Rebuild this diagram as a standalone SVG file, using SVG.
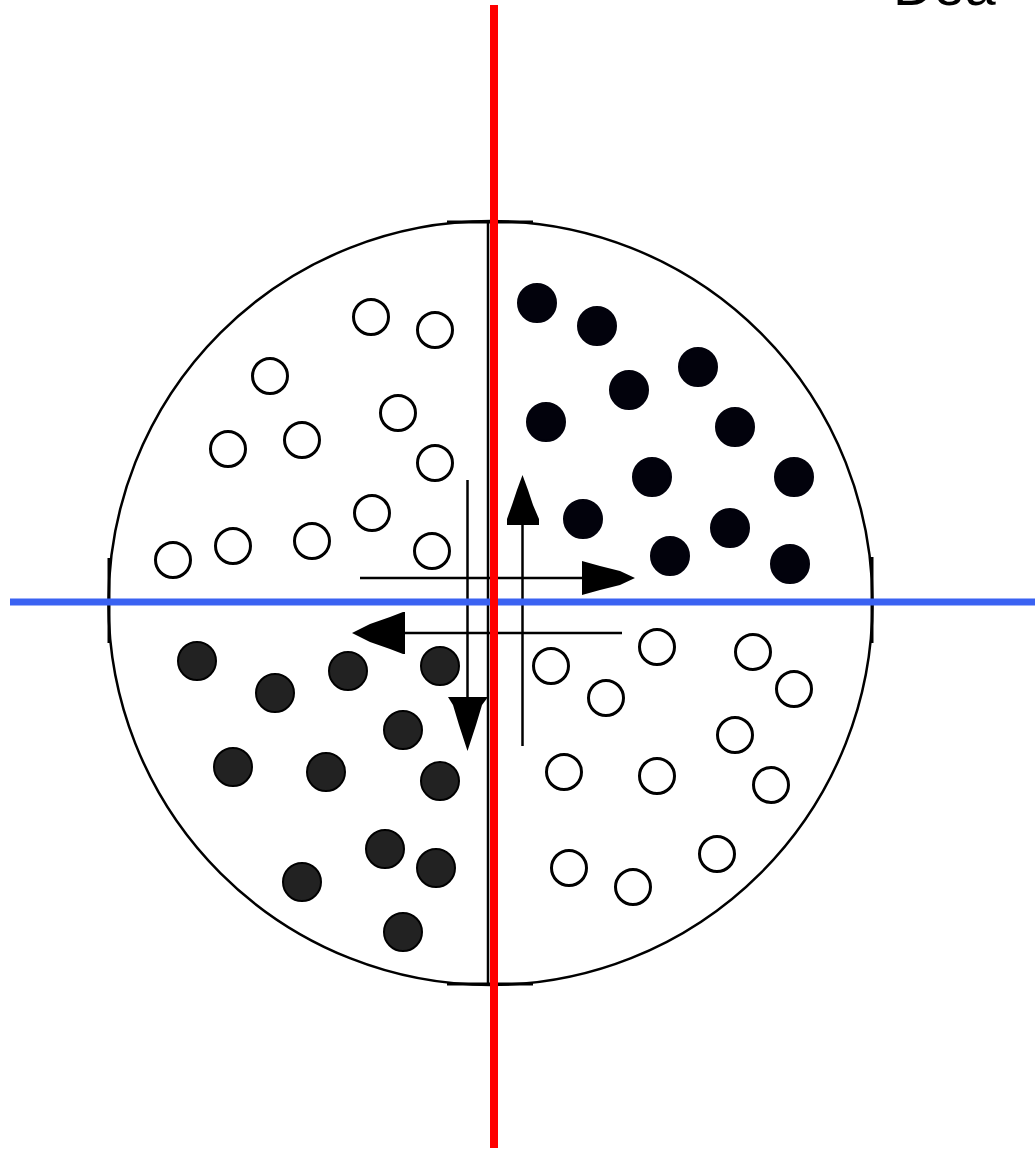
<svg xmlns="http://www.w3.org/2000/svg" width="1035" height="1150" viewBox="0 0 1035 1150">
<style>
.open{fill:#fff;stroke:#000;stroke-width:3}
.blk{fill:#02020c;stroke:#02020c;stroke-width:2}
.gry{fill:#222;stroke:#000;stroke-width:2}
.ln{stroke:#000;stroke-width:2.5;fill:none}
.head{fill:#000}
.flat{stroke:#000;stroke-width:3}
</style>
<rect width="1035" height="1150" fill="#fff"/>
<text x="893" y="5" font-family="Liberation Sans, Arial, sans-serif" font-size="56" fill="#000">Dea</text>
<g id="disc">
<circle cx="490.5" cy="603" r="382" fill="none" stroke="#000" stroke-width="2.5"/>
<line class="flat" x1="447" y1="222" x2="533" y2="222"/>
<line class="flat" x1="447" y1="984" x2="533" y2="984"/>
<line class="flat" x1="109" y1="558" x2="109" y2="643"/>
<line class="flat" x1="872" y1="557" x2="872" y2="643"/>
<line x1="488" y1="221" x2="488" y2="985" stroke="#000" stroke-width="2.5"/>
</g>
<g id="quadrant-top-left">
<circle class="open" cx="371" cy="317" r="17.5"/>
<circle class="open" cx="435" cy="330" r="17.5"/>
<circle class="open" cx="270" cy="376" r="17.5"/>
<circle class="open" cx="398" cy="413" r="17.5"/>
<circle class="open" cx="228" cy="449" r="17.5"/>
<circle class="open" cx="302" cy="440" r="17.5"/>
<circle class="open" cx="435" cy="463" r="17.5"/>
<circle class="open" cx="372" cy="513" r="17.5"/>
<circle class="open" cx="432" cy="551" r="17.5"/>
<circle class="open" cx="173" cy="560" r="17.5"/>
<circle class="open" cx="233" cy="546" r="17.5"/>
<circle class="open" cx="312" cy="541" r="17.5"/>
</g>
<g id="quadrant-top-right">
<circle class="blk" cx="537" cy="303" r="19"/>
<circle class="blk" cx="597" cy="326" r="19"/>
<circle class="blk" cx="698" cy="367" r="19"/>
<circle class="blk" cx="629" cy="390" r="19"/>
<circle class="blk" cx="546" cy="422" r="19"/>
<circle class="blk" cx="735" cy="427" r="19"/>
<circle class="blk" cx="652" cy="477" r="19"/>
<circle class="blk" cx="794" cy="477" r="19"/>
<circle class="blk" cx="583" cy="519" r="19"/>
<circle class="blk" cx="730" cy="528" r="19"/>
<circle class="blk" cx="670" cy="556" r="19"/>
<circle class="blk" cx="790" cy="564" r="19"/>
</g>
<g id="quadrant-bottom-left">
<circle class="gry" cx="197" cy="661" r="19"/>
<circle class="gry" cx="275" cy="693" r="19"/>
<circle class="gry" cx="348" cy="671" r="19"/>
<circle class="gry" cx="440" cy="666" r="19"/>
<circle class="gry" cx="403" cy="730" r="19"/>
<circle class="gry" cx="233" cy="767" r="19"/>
<circle class="gry" cx="326" cy="772" r="19"/>
<circle class="gry" cx="440" cy="781" r="19"/>
<circle class="gry" cx="385" cy="849" r="19"/>
<circle class="gry" cx="436" cy="868" r="19"/>
<circle class="gry" cx="302" cy="882" r="19"/>
<circle class="gry" cx="403" cy="932" r="19"/>
</g>
<g id="quadrant-bottom-right">
<circle class="open" cx="657" cy="647" r="17.5"/>
<circle class="open" cx="753" cy="652" r="17.5"/>
<circle class="open" cx="551" cy="666" r="17.5"/>
<circle class="open" cx="794" cy="689" r="17.5"/>
<circle class="open" cx="606" cy="698" r="17.5"/>
<circle class="open" cx="735" cy="735" r="17.5"/>
<circle class="open" cx="564" cy="772" r="17.5"/>
<circle class="open" cx="657" cy="776" r="17.5"/>
<circle class="open" cx="771" cy="785" r="17.5"/>
<circle class="open" cx="717" cy="854" r="17.5"/>
<circle class="open" cx="569" cy="868" r="17.5"/>
<circle class="open" cx="633" cy="887" r="17.5"/>
</g>
<g id="connectors">
<line class="ln" x1="467.5" y1="480" x2="467.5" y2="745"/>
<polygon class="head" points="448,697 488,697 482,705 476,725 467.5,751 459,725 453,705"/>
<line class="ln" x1="522.5" y1="480" x2="522.5" y2="746"/>
<polygon class="head" points="522.5,475 528,490 533,505 539,519 539,525 507,525 507,519 512,505 517,490"/>
<line class="ln" x1="360" y1="578" x2="630" y2="578"/>
<polygon class="head" points="635,578 620,571 600,566 582,561 582,595 600,590 620,585"/>
<line class="ln" x1="357" y1="633" x2="622" y2="633"/>
<polygon class="head" points="352,633 370,624 390,617 403,612 405,612 405,654 403,654 390,649 370,642"/>
</g>
<g id="axes">
<line x1="10" y1="602" x2="1035" y2="602" stroke="#3a62f2" stroke-width="7"/>
<line x1="494" y1="5" x2="494" y2="1148" stroke="#ff0000" stroke-width="8"/>
</g>
</svg>
